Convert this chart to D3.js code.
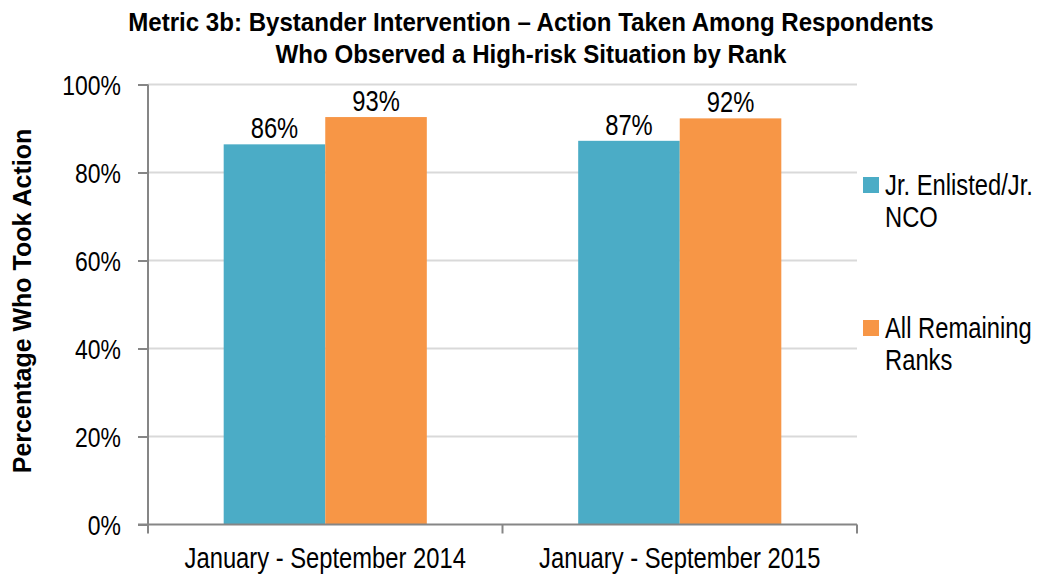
<!DOCTYPE html>
<html>
<head>
<meta charset="utf-8">
<script src="https://cdn.jsdelivr.net/npm/d3@7"></script>
<style>
  body { margin: 0; background: #fff; }
  text { font-family: "Liberation Sans", Arial, sans-serif; fill: #000; }
</style>
</head>
<body>
<svg width="1038" height="575"></svg>
<script>
// data
var periods = ["January - September 2014", "January - September 2015"];
var groups = ["Jr. Enlisted/Jr. NCO", "All Remaining Ranks"];
var jrEnlisted = [86.4, 87.2];
var remaining = [92.6, 92.3];
var barLabels = [["86%", "93%"], ["87%", "92%"]];
var yTicks = [0, 20, 40, 60, 80, 100];
var legendLines = [["Jr. Enlisted/Jr.", "NCO"], ["All Remaining", "Ranks"]];
var colors = ["#4BACC6", "#F79646"];

var svg = d3.select("svg");
var plotLeft = 148, plotRight = 857, plotTop = 84.5, plotBottom = 524.5;
var narrow = 0.82; // fake "Arial Narrow"

// condensed text, anchored at (x, y)
function narrowText(parent, x, y, str, size, anchor) {
  return parent.append("text")
    .attr("transform", "translate(" + x + "," + y + ") scale(" + narrow + ",1)")
    .attr("text-anchor", anchor || "start")
    .style("font-size", size + "px")
    .text(str);
}

var x = d3.scaleBand()
  .domain(periods)
  .range([plotLeft, plotRight])
  .paddingInner(0.427)
  .paddingOuter(0.2135);
var xs = d3.scaleBand()
  .domain(groups)
  .range([0, x.bandwidth()]);
var y = d3.scaleLinear().domain([0, 100]).range([plotBottom, plotTop]);

// title
var title = svg.append("g").attr("transform", "translate(531,0) scale(0.963,1)");
title.append("text").attr("y", 31.5).attr("text-anchor", "middle")
  .style("font-weight", "bold").style("font-size", "25px")
  .text("Metric 3b: Bystander Intervention \u2013 Action Taken Among Respondents");
title.append("text").attr("y", 63).attr("text-anchor", "middle")
  .style("font-weight", "bold").style("font-size", "25px")
  .text("Who Observed a High-risk Situation by Rank");

// gridlines
svg.append("g")
  .selectAll("line")
  .data(yTicks.filter(d => d > 0))
  .enter()
  .append("line")
  .attr("x1", plotLeft)
  .attr("x2", plotRight)
  .attr("y1", d => y(d))
  .attr("y2", d => y(d))
  .style("stroke", "#d9d9d9")
  .style("stroke-width", 2);

// bars
var rows = periods.map((p, i) => ({ period: p, values: [jrEnlisted[i], remaining[i]], labels: barLabels[i] }));

var bar_groups = svg.append("g")
  .selectAll("g")
  .data(rows)
  .enter()
  .append("g")
  .attr("transform", d => "translate(" + x(d.period) + ",0)");

bar_groups.selectAll("rect")
  .data(d => d.values.map((v, j) => ({ key: groups[j], value: v, label: d.labels[j], j: j })))
  .enter()
  .append("rect")
  .attr("x", d => xs(d.key))
  .attr("y", d => y(d.value))
  .attr("width", xs.bandwidth())
  .attr("height", d => y(0) - y(d.value))
  .style("fill", d => colors[d.j]);

bar_groups.each(function (d) {
  var g = d3.select(this);
  d.values.forEach(function (v, j) {
    narrowText(g, xs(groups[j]) + xs.bandwidth() / 2, y(v) - 6, d.labels[j], 29, "middle");
  });
});

// y axis
var yAxis = svg.append("g")
  .attr("transform", "translate(" + plotLeft + ",0)")
  .call(d3.axisLeft(y).tickValues(yTicks).tickFormat(d => d + "%").tickSize(10).tickPadding(27));
yAxis.select(".domain").attr("d", "M0," + plotTop + "V" + plotBottom);
yAxis.selectAll("line, path").style("stroke", "#868686").style("stroke-width", 2);
yAxis.selectAll("text")
  .style("font-size", "28px")
  .style("font-family", null)
  .attr("fill", "#000")
  .attr("dy", "0.37em")
  .attr("x", -27 / narrow)
  .attr("transform", "scale(" + narrow + ",1)");

// x axis
var xAxis = svg.append("g")
  .attr("transform", "translate(0," + plotBottom + ")");
xAxis.append("line")
  .attr("x1", plotLeft - 10).attr("x2", plotRight)
  .style("stroke", "#868686").style("stroke-width", 2);
xAxis.selectAll(".tk")
  .data([plotLeft, plotLeft + x.step(), plotRight])
  .enter()
  .append("line")
  .attr("class", "tk")
  .attr("x1", d => d).attr("x2", d => d)
  .attr("y1", 0).attr("y2", 9)
  .style("stroke", "#868686").style("stroke-width", 2);
periods.forEach(function (p) {
  narrowText(xAxis, x(p) + x.bandwidth() / 2, 43, p, 29, "middle");
});

// y title
svg.append("text")
  .attr("transform", "translate(31,301) rotate(-90)")
  .attr("text-anchor", "middle")
  .style("font-weight", "bold")
  .style("font-size", "25px")
  .text("Percentage Who Took Action");

// legend
var legend = svg.append("g")
  .selectAll("g")
  .data(groups)
  .enter()
  .append("g")
  .attr("transform", (d, i) => "translate(863," + (177 + i * 143) + ")");
legend.append("rect")
  .attr("width", 16).attr("height", 16)
  .style("fill", (d, i) => colors[i]);
legend.each(function (d, i) {
  var g = d3.select(this);
  legendLines[i].forEach(function (line, k) {
    narrowText(g, 22, 18 + k * 32, line, 29);
  });
});
</script>
</body>
</html>
